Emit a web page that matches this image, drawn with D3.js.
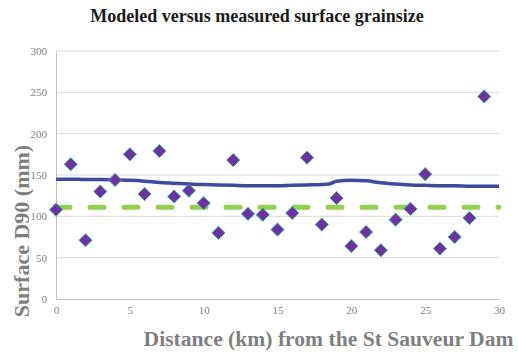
<!DOCTYPE html>
<html>
<head>
<meta charset="utf-8">
<script src="https://cdn.jsdelivr.net/npm/d3@7"></script>
<style>
  body { margin: 0; background: #fff; }
  svg { display: block; }
  svg text { font-family: 'Liberation Serif', 'Times New Roman', serif; }
</style>
</head>
<body>
<svg id="chart" width="518" height="355"></svg>
<script>
// Measured surface D90 (mm) at each kilometre downstream of the dam
const measuredKm = [0,1,2,3,4,5,6,7,8,9,10,11,12,13,14,15,16,17,18,19,20,21,22,23,24,25,26,27,28,29];
const measuredD90 = [108,163,71,130,144,175,127,179,124,131,116,80,168,103,102,84,104,171,90,122,64,81,59,96,109,151,61,75,98,245];

// Modeled surface D90 (mm) along the reach
const modeledKm = [0,1,2,3,4,5,6,7,8,9,10,11,12,13,14,15,16,17,18,18.5,19,20,21,22,23,24,25,26,27,28,29,30];
const modeledD90 = [145,145,144.5,144.5,144,143.5,142.5,141,140,139,138.5,138,137.5,137,137,137,137.5,138,138.5,139.2,142.5,143.5,143,140.5,139,138,137.5,137,137,136.5,136.5,136.5];

// Reference (initial) grain size, constant along the reach
const refKm = [0, 30];
const refD90 = [111, 111];

const xTicks = [0,5,10,15,20,25,30];
const yTicks = [0,50,100,150,200,250,300];

const svg = d3.select("#chart");
const m = { left: 56, right: 499, top: 51, bottom: 299 };

const x = d3.scaleLinear().domain([0, 30]).range([m.left, m.right]);
const y = d3.scaleLinear().domain([0, 300]).range([m.bottom, m.top]);

const serif = "'Liberation Serif','Times New Roman',serif";

// Gridlines
svg.append("g")
  .selectAll("line")
  .data(yTicks.filter(d => d > 0))
  .join("line")
  .attr("x1", m.left).attr("x2", m.right)
  .attr("y1", d => y(d)).attr("y2", d => y(d))
  .attr("stroke", "#d9d9d9").attr("stroke-width", 1);

// Y axis
const yAxis = svg.append("g")
  .attr("transform", `translate(${m.left},0)`)
  .call(d3.axisLeft(y).tickValues(yTicks).tickSize(0).tickPadding(9));
yAxis.attr("font-family", serif);
yAxis.select(".domain").attr("stroke", "#bfbfbf");
yAxis.selectAll("text")
  .style("font-family", serif).attr("font-size", 11).attr("fill", "#7f7f7f");

// X axis
const xAxis = svg.append("g")
  .attr("transform", `translate(0,${m.bottom})`)
  .call(d3.axisBottom(x).tickValues(xTicks).tickSize(0).tickPadding(7));
xAxis.attr("font-family", serif);
xAxis.select(".domain").attr("stroke", "#bfbfbf");
xAxis.selectAll("text")
  .style("font-family", serif).attr("font-size", 11).attr("fill", "#7f7f7f");

// Reference grain size: dashed green line
svg.append("path")
  .datum(refKm.map((k, i) => [k, refD90[i]]))
  .attr("d", d3.line().x(d => x(d[0])).y(d => y(d[1])))
  .attr("fill", "none")
  .attr("stroke", "#92d050")
  .attr("stroke-width", 5)
  .attr("stroke-linecap", "round")
  .attr("stroke-dasharray", "14 20");

// Modeled grain size: smooth blue line
svg.append("path")
  .datum(modeledKm.map((k, i) => [k, modeledD90[i]]))
  .attr("d", d3.line().curve(d3.curveMonotoneX).x(d => x(d[0])).y(d => y(d[1])))
  .attr("fill", "none")
  .attr("stroke", "#3d4aa0")
  .attr("stroke-width", 3.5);

// Measured grain size: diamond markers
svg.append("g")
  .selectAll("path")
  .data(measuredKm.map((k, i) => [k, measuredD90[i]]))
  .join("path")
  .attr("transform", d => `translate(${x(d[0])},${y(d[1])})`)
  .attr("d", d3.symbol().type(d3.symbolDiamond2).size(110))
  .attr("fill", "#7030a0")
  .attr("stroke", "#2db3a3")
  .attr("stroke-width", 1);

// Titles
svg.append("text")
  .attr("x", 257).attr("y", 22)
  .attr("text-anchor", "middle")
  .attr("font-weight", "bold").attr("font-size", 18)
  .attr("fill", "#1a1a1a")
  .text("Modeled versus measured surface grainsize");

svg.append("text")
  .attr("x", 328.5).attr("y", 346)
  .attr("text-anchor", "middle")
  .attr("font-weight", "bold").attr("font-size", 21.6)
  .attr("fill", "#7f7f7f")
  .text("Distance (km) from the St Sauveur Dam");

svg.append("text")
  .attr("transform", "translate(29,231) rotate(-90)")
  .attr("text-anchor", "middle")
  .attr("font-weight", "bold").attr("font-size", 22)
  .attr("fill", "#7f7f7f")
  .text("Surface D90 (mm)");
</script>
</body>
</html>
